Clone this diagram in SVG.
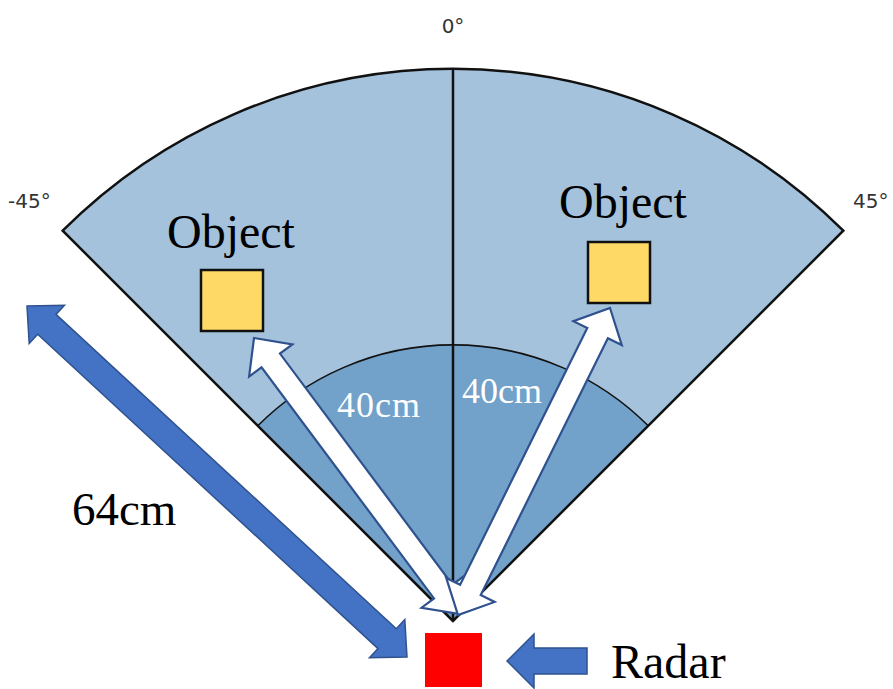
<svg xmlns="http://www.w3.org/2000/svg" width="893" height="689" viewBox="0 0 893 689">
  <defs>
    <style>
      .deg { font-family: "DejaVu Sans", sans-serif; font-size: 20px; fill: #333333; }
      .serif { font-family: "Liberation Serif", "Times New Roman", serif; }
      .obj { fill: #ffd966; stroke: #111111; stroke-width: 2.5; }
      .barrow { fill: #4472c4; stroke: #2f528f; stroke-width: 1.5; stroke-linejoin: miter; }
      .warrow { fill: #ffffff; stroke: #2f528f; stroke-width: 2.2; stroke-linejoin: miter; }
      .edge { fill: none; stroke: #111111; stroke-width: 2.5; }
    </style>
  </defs>
  <rect width="893" height="689" fill="#ffffff"/>

  <g id="sector">
    <path d="M453 621 L62.7 230.7 A551.5 551.5 0 0 1 843.3 230.7 Z" fill="#a4c2dc"/>
    <path d="M453 621 L257.8 425.8 A276 276 0 0 1 648.2 425.8 Z" fill="#72a1c9"/>
    <path class="edge" d="M453 621 L62.7 230.7 A551.5 551.5 0 0 1 843.3 230.7 Z"/>
    <path d="M257.8 425.8 A276 276 0 0 1 648.2 425.8" fill="none" stroke="#111111" stroke-width="1.6"/>
    <line x1="453" y1="69.5" x2="453" y2="621" stroke="#111111" stroke-width="2.5"/>
  </g>

  <g id="labels-angle">
    <text class="deg" x="453" y="33" text-anchor="middle">0°</text>
    <text class="deg" x="8" y="208">-45°</text>
    <text class="deg" x="853" y="208">45°</text>
  </g>

  <g id="object-left">
    <rect class="obj" x="201" y="270" width="62" height="61"/>
    <text class="serif" x="167" y="248" font-size="48" fill="#000000">Object</text>
  </g>
  <g id="object-right">
    <rect class="obj" x="588" y="242" width="62" height="61"/>
    <text class="serif" x="559" y="218" font-size="48" fill="#000000">Object</text>
  </g>

  <g id="connectors">
    <g transform="translate(254 338) rotate(53.27)">
      <polygon class="warrow" points="0,0 28,-27 28,-11.5 316.4,-11.5 316.4,-27 344.4,0 316.4,27 316.4,11.5 28,11.5 28,27"/>
    </g>
    <g transform="translate(610 308) rotate(116.34)">
      <polygon class="warrow" points="0,0 28,-27 28,-11.5 314.6,-11.5 314.6,-27 342.6,0 314.6,27 314.6,11.5 28,11.5 28,27"/>
    </g>
    <g transform="translate(27 306) rotate(42.73)">
      <polygon class="barrow" points="0,0 27,-26 27,-13.5 490.3,-13.5 490.3,-26 517.3,0 490.3,26 490.3,13.5 27,13.5 27,26"/>
    </g>
    <polygon class="barrow" points="507,661 534,634 534,648 587,648 587,674 534,674 534,688"/>
  </g>

  <g id="distance-labels">
    <text class="serif" x="337" y="417" font-size="36" fill="#ffffff" textLength="83">40cm</text>
    <text class="serif" x="462" y="403" font-size="36" fill="#ffffff" textLength="80">40cm</text>
    <text class="serif" x="72" y="525" font-size="47" fill="#000000">64cm</text>
  </g>

  <g id="radar">
    <rect x="425" y="633" width="57" height="54" fill="#ff0000"/>
    <text class="serif" x="611" y="678" font-size="48" fill="#000000">Radar</text>
  </g>
</svg>
